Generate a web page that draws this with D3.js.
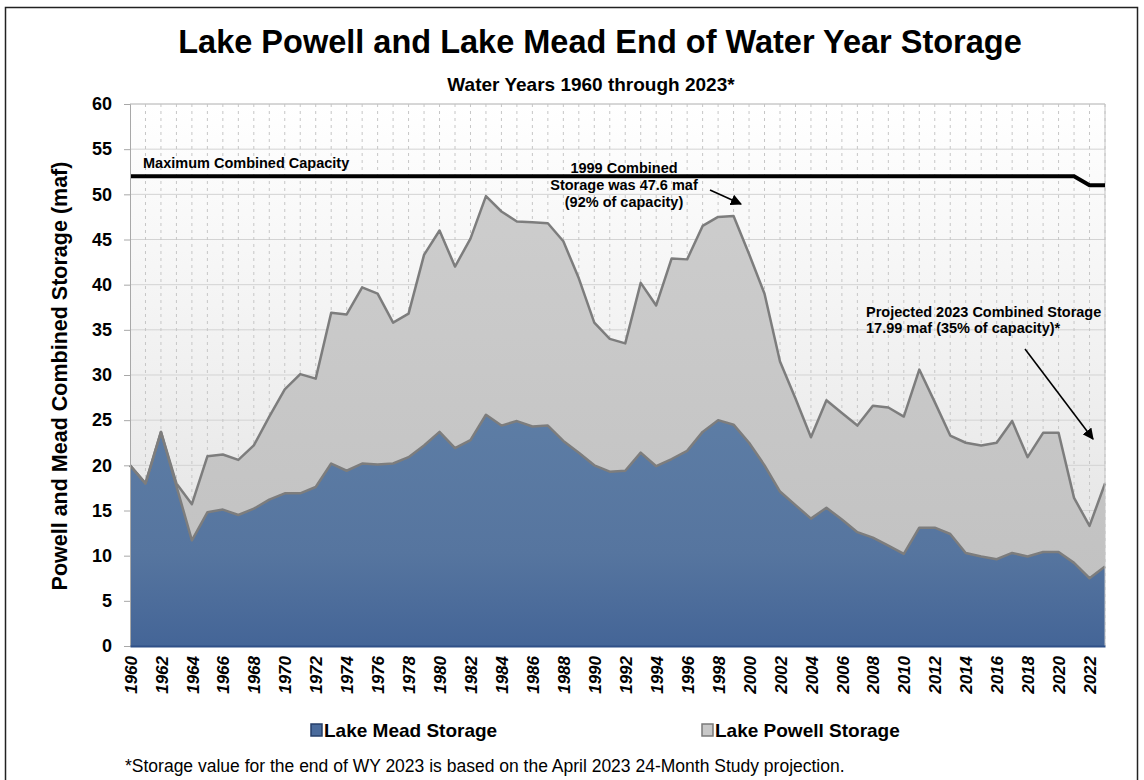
<!DOCTYPE html>
<html><head><meta charset="utf-8">
<script src="https://cdn.jsdelivr.net/npm/d3@7"></script>
<style>
body{margin:0;background:#fff}
svg{display:block}
text{font-family:"Liberation Sans",Arial,Helvetica,sans-serif}
</style>
</head><body>
<svg id="chart" width="1144" height="780"></svg>
<script>
// ---------------- data ----------------
const years = [1960,1961,1962,1963,1964,1965,1966,1967,1968,1969,
  1970,1971,1972,1973,1974,1975,1976,1977,1978,1979,
  1980,1981,1982,1983,1984,1985,1986,1987,1988,1989,
  1990,1991,1992,1993,1994,1995,1996,1997,1998,1999,
  2000,2001,2002,2003,2004,2005,2006,2007,2008,2009,
  2010,2011,2012,2013,2014,2015,2016,2017,2018,2019,
  2020,2021,2022,2023];
const meadStorage = [20.0,18.0,23.7,17.7,11.7,14.8,15.1,14.5,15.2,16.2,
  16.9,16.9,17.6,20.2,19.4,20.2,20.1,20.2,20.9,22.2,
  23.7,21.9,22.8,25.6,24.4,24.9,24.3,24.4,22.7,21.4,
  20.0,19.3,19.4,21.4,19.9,20.7,21.6,23.7,25.0,24.5,
  22.5,20.0,17.1,15.6,14.1,15.3,14.0,12.6,12.0,11.1,
  10.2,13.1,13.1,12.4,10.3,9.9,9.6,10.3,9.9,10.4,
  10.4,9.2,7.5,8.8];
const powellStorage = [0,0,0,0.3,4.0,6.2,6.1,6.1,7.0,9.2,
  11.5,13.2,12.0,16.7,17.3,19.5,18.9,15.6,15.9,21.1,
  22.3,20.1,22.3,24.2,23.7,22.1,22.6,22.4,22.1,19.3,
  15.8,14.7,14.1,18.8,17.8,22.2,21.2,22.8,22.5,23.1,
  20.9,19.0,14.4,11.8,9.0,11.9,11.8,11.8,14.6,15.3,
  15.2,17.5,13.9,10.9,12.2,12.3,12.9,14.6,11.0,13.2,
  13.2,7.2,5.8,9.19];
const capacityYears = [1960,2021,2022,2023];
const capacityValues = [52,52,51,51];
const xTickYears = [1960,1962,1964,1966,1968,1970,1972,1974,1976,1978,1980,1982,1984,1986,1988,1990,
  1992,1994,1996,1998,2000,2002,2004,2006,2008,2010,2012,2014,2016,2018,2020,2022];
const yTicks = [0,5,10,15,20,25,30,35,40,45,50,55,60];
const seriesNames = ["Lake Mead Storage","Lake Powell Storage"];

// ---------------- chart ----------------
const svg = d3.select("#chart");
const L=130, R=1105, T=104, B=646;
const x = d3.scaleLinear().domain([1960,2023]).range([L,R]);
const y = d3.scaleLinear().domain([0,60]).range([B,T]);

const defs = svg.append("defs");
function vgrad(id, stops){
  const g = defs.append("linearGradient").attr("id",id).attr("x1",0).attr("x2",0).attr("y1",0).attr("y2",1);
  stops.forEach(s=>g.append("stop").attr("offset",s[0]).attr("stop-color",s[1]));
}
vgrad("bgGrad",[[0,"#ffffff"],[0.5,"#f0f0f0"],[1,"#dedede"]]);
vgrad("meadGrad",[[0,"#5d7da5"],[0.6,"#56759f"],[1,"#446597"]]);
vgrad("powellGrad",[[0,"#cdcdcd"],[1,"#c2c2c2"]]);
defs.append("marker").attr("id","arrow").attr("viewBox","0 0 10 10").attr("refX",9).attr("refY",5)
  .attr("markerWidth",7).attr("markerHeight",7).attr("orient","auto")
  .append("path").attr("d","M0,0 L10,5 L0,10 z").attr("fill","#000");

// outer frame
svg.append("rect").attr("x",5.5).attr("y",7.5).attr("width",1132).attr("height",800)
  .attr("fill","none").attr("stroke","#222").attr("stroke-width",1.5);

// titles
svg.append("text").attr("x",600).attr("y",53).attr("text-anchor","middle")
  .attr("font-size",32.5).attr("font-weight","bold").text("Lake Powell and Lake Mead End of Water Year Storage");
svg.append("text").attr("x",591).attr("y",91).attr("text-anchor","middle")
  .attr("font-size",19).attr("font-weight","bold").text("Water Years 1960 through 2023*");

// plot background
svg.append("rect").attr("x",L).attr("y",T).attr("width",R-L).attr("height",B-T).attr("fill","url(#bgGrad)");

// gridlines
svg.append("g").selectAll("line").data(yTicks.filter(d=>d>0)).join("line")
  .attr("x1",L).attr("x2",R).attr("y1",d=>y(d)).attr("y2",d=>y(d))
  .attr("stroke","#d3d3d3").attr("stroke-width",1);
svg.append("g").selectAll("line").data(years.slice(1)).join("line")
  .attr("x1",d=>x(d)).attr("x2",d=>x(d)).attr("y1",T).attr("y2",B)
  .attr("stroke","#c6c6c6").attr("stroke-width",1).attr("stroke-dasharray","3,4");

// stacked areas
const rows = years.map((yr,i)=>({year:yr, mead:meadStorage[i], powell:powellStorage[i]}));
const stack = d3.stack().keys(["mead","powell"])(rows);
const area = d3.area().x(d=>x(d.data.year)).y0(d=>y(d[0])).y1(d=>y(d[1]));
svg.append("path").datum(stack[1]).attr("d",area).attr("fill","url(#powellGrad)");
svg.append("path").datum(stack[0]).attr("d",area).attr("fill","url(#meadGrad)");
const topLine = d3.line().x(d=>x(d.data.year)).y(d=>y(d[1]));
svg.append("path").datum(stack[1]).attr("d",topLine).attr("fill","none").attr("stroke","#7d7d7d").attr("stroke-width",2.5).attr("stroke-linejoin","round");
svg.append("path").datum(stack[0]).attr("d",topLine).attr("fill","none").attr("stroke","#7d7d7d").attr("stroke-width",2.5).attr("stroke-linejoin","round");

// plot frame
svg.append("line").attr("x1",L).attr("x2",R).attr("y1",T).attr("y2",T).attr("stroke","#c4c4c4");
svg.append("line").attr("x1",R).attr("x2",R).attr("y1",T).attr("y2",B).attr("stroke","#c4c4c4");

// capacity line
const capLine = d3.line().x((d,i)=>x(capacityYears[i])).y(d=>y(d));
svg.append("path").datum(capacityValues).attr("d",capLine).attr("fill","none")
  .attr("stroke","#000").attr("stroke-width",4);

// y axis
const yAxis = svg.append("g").attr("transform",`translate(${L},0)`)
  .call(d3.axisLeft(y).tickValues(yTicks).tickSize(6).tickPadding(12));
yAxis.select(".domain").attr("stroke","#a8a8a8");
yAxis.selectAll(".tick line").attr("stroke","#a8a8a8");
yAxis.selectAll("text").attr("font-size",18).attr("font-weight","bold").attr("fill","#000")
  .attr("font-family","'Liberation Sans',Arial,sans-serif");

// x axis
const xAxis = svg.append("g").attr("transform",`translate(0,${B})`)
  .call(d3.axisBottom(x).tickValues(xTickYears).tickSize(0).tickFormat(d3.format("d")));
xAxis.select(".domain").attr("stroke","#2f5088").attr("stroke-width",2);
xAxis.selectAll("text").attr("font-size",17).attr("font-weight","bold").attr("font-style","italic")
  .attr("fill","#000").attr("font-family","'Liberation Sans',Arial,sans-serif")
  .attr("text-anchor","end").attr("transform","translate(0,10) rotate(-90)")
  .attr("x",0).attr("y",0).attr("dy","0.36em");

// y axis title
svg.append("text").attr("transform","translate(67,376) rotate(-90)").attr("text-anchor","middle")
  .attr("font-size",21.5).attr("font-weight","bold").text("Powell and Mead Combined Storage (maf)");

// annotations
svg.append("text").attr("x",143).attr("y",168).attr("font-size",14.5).attr("font-weight","bold")
  .text("Maximum Combined Capacity");
const ann1 = svg.append("text").attr("text-anchor","middle").attr("font-size",14.5).attr("font-weight","bold");
["1999 Combined","Storage was 47.6 maf","(92% of capacity)"].forEach((t,i)=>
  ann1.append("tspan").attr("x",624).attr("y",173+i*17).text(t));
svg.append("line").attr("x1",710).attr("y1",190).attr("x2",741).attr("y2",204)
  .attr("stroke","#000").attr("stroke-width",1.6).attr("marker-end","url(#arrow)");
const ann2 = svg.append("text").attr("font-size",14.5).attr("font-weight","bold");
["Projected 2023 Combined Storage","17.99 maf (35% of capacity)*"].forEach((t,i)=>
  ann2.append("tspan").attr("x",866).attr("y",317+i*16).text(t));
svg.append("line").attr("x1",1025).attr("y1",349).attr("x2",1093).attr("y2",439)
  .attr("stroke","#000").attr("stroke-width",1.6).attr("marker-end","url(#arrow)");

// legend
const leg = [{x:311, fill:"#4a6b9c", stroke:"#263f6a"},{x:702, fill:"#c8c8c8", stroke:"#7a7a7a"}];
leg.forEach((l,i)=>{
  svg.append("rect").attr("x",l.x).attr("y",724).attr("width",11).attr("height",12)
    .attr("fill",l.fill).attr("stroke",l.stroke).attr("stroke-width",1.5);
  svg.append("text").attr("x",l.x+13).attr("y",737).attr("font-size",19).attr("font-weight","bold")
    .text(seriesNames[i]);
});

// footnote
svg.append("text").attr("x",125).attr("y",772).attr("font-size",17.5)
  .text("*Storage value for the end of WY 2023 is based on the April 2023 24-Month Study projection.");
</script>
</body></html>
